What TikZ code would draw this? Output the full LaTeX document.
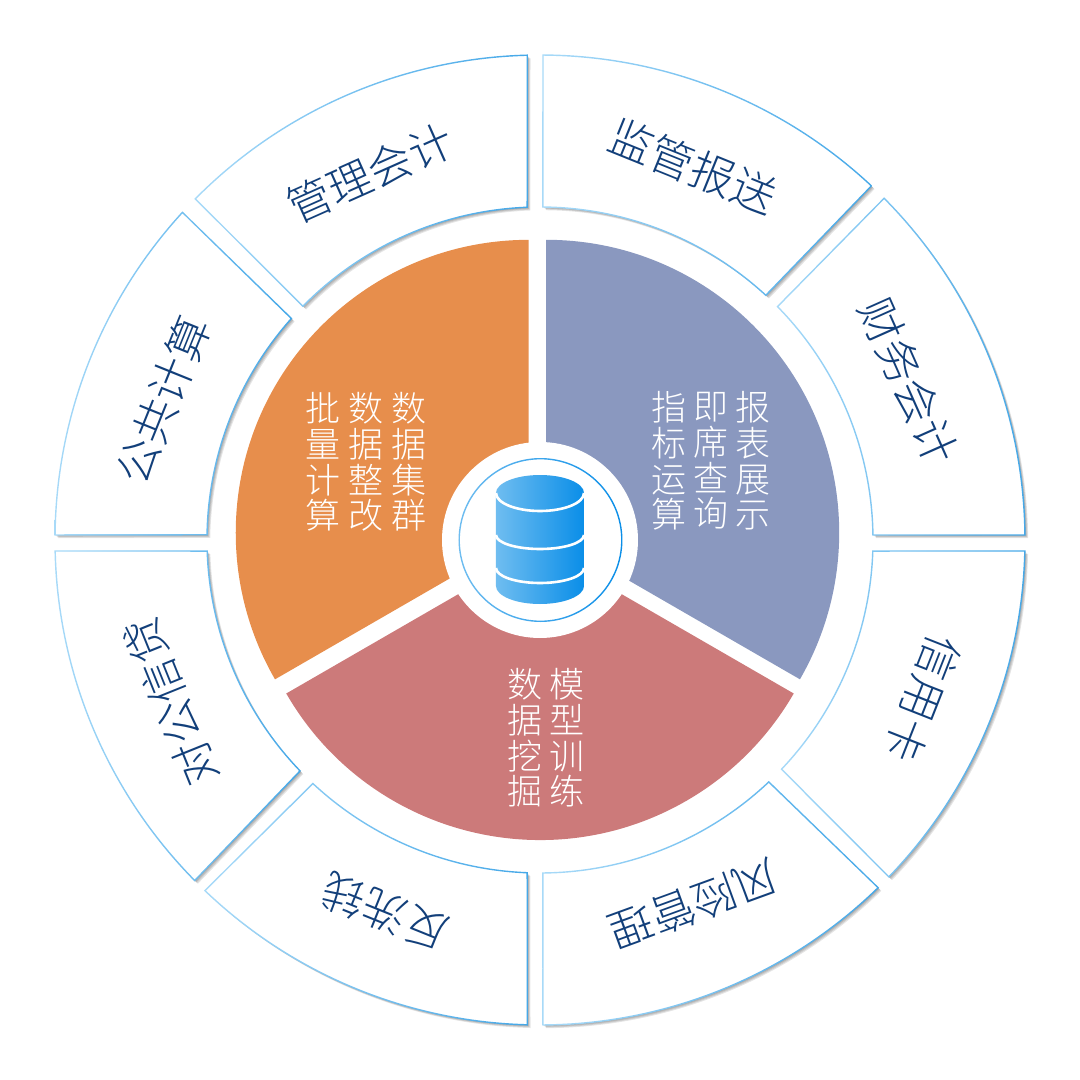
\documentclass[tikz,border=0pt]{standalone}
\usepackage{fontspec}
\setmainfont{Noto Sans CJK SC Light}
\usetikzlibrary{positioning, calc}
\definecolor{linelight}{HTML}{A8DAF8}
\definecolor{linedark}{HTML}{45A8E8}
\definecolor{paneltext}{HTML}{123F7A}
\definecolor{wedgeorange}{HTML}{E78E4C}
\definecolor{wedgeblue}{HTML}{8A98BF}
\definecolor{wedgered}{HTML}{CC7A7A}
\definecolor{dblight}{HTML}{6FBDF0}
\definecolor{dbdark}{HTML}{0A8EE8}
\tikzset{
    paneltxt/.style={text=paneltext, inner sep=0pt, font=\fontsize{44}{44}\selectfont},
    wedgetxt/.style={text=white, inner sep=0pt, align=center, font=\fontsize{35}{35.6}\selectfont},
    dbshade/.style={left color=dblight, right color=dbdark},
    dbband/.style={white, line width=2.6pt}
}
% outer panel: angle at outer start, outer end, inner end, inner start
\newcommand{\panel}[4]{
    \foreach \s in {1,2,3,4}
        \fill[black, opacity=.1, shift={(\s*.8,-\s*.8)}] (#1:485pt) arc (#1:#2:485pt) -- (#3:333pt) arc (#3:#4:333pt) -- cycle;
    \fill[white] (#1:485pt) arc (#1:#2:485pt) -- (#3:333pt) arc (#3:#4:333pt) -- cycle;
    \shade[left color=linelight, right color=linedark, even odd rule]
        (#1+.08:485.7pt) arc (#1+.08:#2-.08:485.7pt) -- (#3-.12:332.3pt) arc (#3-.12:#4+.12:332.3pt) -- cycle
        (#1-.08:484.3pt) arc (#1-.08:#2+.08:484.3pt) -- (#3+.12:333.7pt) arc (#3+.12:#4-.12:333.7pt) -- cycle;
}
% inner wedge: colour, centre, radius, start, end
\newcommand{\piewedge}[5]{
    \fill[#1] (#2) -- ++(#4:#3pt) arc (#4:#5:#3pt) -- cycle;
}
\begin{document}
\begin{tikzpicture}[x=1pt,y=1pt]
    \useasboundingbox (-540,-540) rectangle (540,540);
    \panel{89.65}{46.9}{47.3}{89.5}
    \panel{44.8}{0.6}{0.86}{44.5}
    \panel{-1.3}{-44}{-43.5}{-1.9}
    \panel{-45.8}{-89.65}{-89.5}{-46.6}
    \panel{-91.5}{-133.7}{-133}{-92.2}
    \panel{-135.4}{-178.7}{-178.1}{-136.1}
    \panel{179.4}{137.5}{138.3}{179.1}
    \panel{135.3}{91.5}{92.2}{135.4}
    \piewedge{wedgeblue}{6.2,7.2}{293}{90}{-30}
    \piewedge{wedgeorange}{-11.25,7.17}{293}{90}{210}
    \piewedge{wedgered}{0,-7}{293}{210}{330}
    \fill[white] (0,0) circle (98pt);
    \shade[dbshade, even odd rule] (0.5,0) circle (82pt) (0.5,0) circle (80.6pt);
    \shade[dbshade] (-44,47) arc (180:0:44pt and 18pt) -- (44,-46) arc (360:180:44pt and 18pt) -- cycle;
    \draw[dbband] (-44,47) arc (180:360:44pt and 18pt);
    \draw[dbband] (-44,5) arc (180:360:44pt and 14pt);
    \draw[dbband] (-44,-28) arc (180:360:44pt and 15pt);
    \node[paneltxt, rotate=-22] (jianguan) at (153,374) {监管报送};
    \node[paneltxt, rotate=-66] (caiwu) at (369,159) {财务会计};
    \node[paneltxt, rotate=-111.5] (xinyong) at (383,-159) {信用卡};
    \node[paneltxt, rotate=-160] (fengxian) at (154,-364) {风险管理};
    \node[paneltxt, rotate=158] (fanxi) at (-155,-372) {反洗钱};
    \node[paneltxt, rotate=112] (duigong) at (-369,-162) {对公信贷};
    \node[paneltxt, rotate=68] (gonggong) at (-377,140) {公共计算};
    \node[paneltxt, rotate=24] (guanli) at (-170,367) {管理会计};
    \node[wedgetxt] (baobiao) at (213.5,79) {报\\表\\展\\示};
    \node[wedgetxt, left=6.6pt of baobiao] (jixi) {即\\席\\查\\询};
    \node[wedgetxt, left=6.6pt of jixi] (zhibiao) {指\\标\\运\\算};
    \node[wedgetxt] (shujuji) at (-130.5,78) {数\\据\\集\\群};
    \node[wedgetxt, left=7.8pt of shujuji] (shujuzheng) {数\\据\\整\\改};
    \node[wedgetxt, left=7.8pt of shujuzheng] (piliang) {批\\量\\计\\算};
    \node[wedgetxt] (moxing) at (27.5,-198) {模\\型\\训\\练};
    \node[wedgetxt, left=7.4pt of moxing] (wajue) {数\\据\\挖\\掘};
\end{tikzpicture}
\end{document}
